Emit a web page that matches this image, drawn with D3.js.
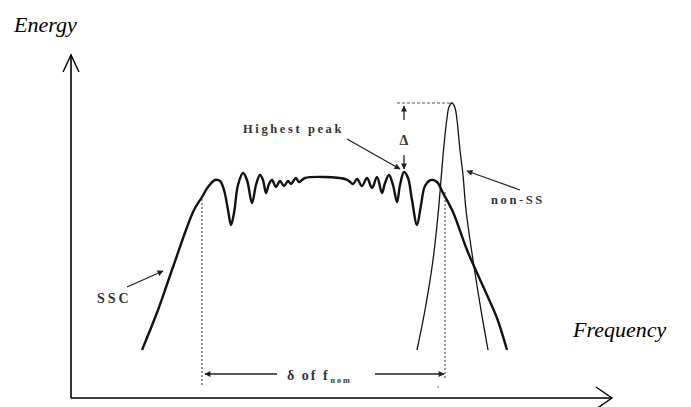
<!DOCTYPE html>
<html>
<head>
<meta charset="utf-8">
<script src="https://cdn.jsdelivr.net/npm/d3@7"></script>
<style>
  body { margin: 0; background: #fff; }
  .lbl { font-family: "Liberation Serif", "DejaVu Serif", serif; font-weight: bold; fill: #333; }
  .axislabel { font-family: "Liberation Serif", serif; font-style: italic; font-size: 22px; fill: #000; }
</style>
</head>
<body>
<svg id="chart" width="691" height="407"></svg>
<script>
// spectrum of the spread spectrum clock (frequency, energy) in arbitrary units
const sscFreq = [71, 87, 102, 115, 123, 131, 137, 144, 149, 153, 157, 160, 163, 167, 172, 176, 181, 185, 189, 192,
  195, 198, 201, 205, 209, 213, 217, 220, 225, 228, 234, 254, 274, 278, 282, 286, 291, 296, 301, 306,
  311, 314, 318, 322, 326, 329, 333, 337, 341, 346, 350, 354, 360, 366, 372, 382, 396, 416, 426, 436];
const sscEnergy = [48, 88, 131, 168, 188, 201, 211, 218, 217, 208, 188, 173, 185, 213, 225, 218, 195, 213, 223, 218,
  205, 214, 218, 211, 217, 212, 217, 214, 220, 216, 220, 221, 219, 217, 214, 219, 212, 220, 210, 221,
  205, 215, 223, 213, 196, 213, 226, 220, 198, 173, 193, 212, 218, 216, 205, 186, 148, 103, 80, 48];

// spectrum of the non spread clock
const nonFreq = [346, 354, 362, 367, 370, 373, 376, 378, 381, 384, 386, 389, 392, 395, 402, 410, 417];
const nonEnergy = [48, 88, 138, 183, 218, 253, 280, 291, 295, 290, 278, 248, 223, 188, 138, 88, 48];

// bandwidth limits and peak levels
const bandEdges = [131, 374];
const bandTops = [200, 206];
const bandBottom = [13, 20];
const nonPeak = 295;
const highestPeak = { f: 333, e: 226 };

const w = 691, h = 407;
const chart = d3.select('#chart');

const xScale = d3.scaleLinear().domain([0, 540]).range([71, 611]);
const yScale = d3.scaleLinear().domain([0, 343]).range([398, 55]);

// arrow marker for the annotations
chart.append('defs').append('marker')
  .attr('id', 'head')
  .attr('viewBox', '0 0 10 10')
  .attr('refX', 9).attr('refY', 5)
  .attr('markerWidth', 7).attr('markerHeight', 6)
  .attr('markerUnits', 'userSpaceOnUse')
  .attr('orient', 'auto')
  .append('path').attr('d', 'M0,0 L10,5 L0,10 z').attr('fill', '#222');

// AXES
chart.append('line')
  .attr('x1', xScale(0)).attr('y1', yScale(0))
  .attr('x2', xScale(541)).attr('y2', yScale(0))
  .attr('stroke', '#000').attr('stroke-width', 1.6);
chart.append('line')
  .attr('x1', xScale(0)).attr('y1', yScale(0))
  .attr('x2', xScale(0)).attr('y2', yScale(343))
  .attr('stroke', '#000').attr('stroke-width', 1.6);

// open arrow heads
chart.append('path')
  .attr('d', `M${xScale(-8)},${yScale(326)} L${xScale(0)},${yScale(343)} L${xScale(8)},${yScale(326)}`)
  .attr('fill', 'none').attr('stroke', '#000').attr('stroke-width', 1.4);
chart.append('path')
  .attr('d', `M${xScale(525)},${yScale(11)} L${xScale(541)},${yScale(0)} L${xScale(525)},${yScale(-11)}`)
  .attr('fill', 'none').attr('stroke', '#000').attr('stroke-width', 1.4);

// axis labels
chart.append('text').attr('class', 'axislabel')
  .attr('x', xScale(-57)).attr('y', yScale(366)).text('Energy');
chart.append('text').attr('class', 'axislabel')
  .attr('x', xScale(502)).attr('y', yScale(61)).text('Frequency');

// DASHED GUIDES
bandEdges.forEach((f, i) => {
  chart.append('line')
    .attr('x1', xScale(f)).attr('x2', xScale(f))
    .attr('y1', yScale(bandBottom[i])).attr('y2', yScale(bandTops[i]))
    .attr('stroke', '#555').attr('stroke-width', 1.2)
    .attr('stroke-dasharray', '2,2');
});
chart.append('line')
  .attr('x1', xScale(326)).attr('x2', xScale(379))
  .attr('y1', yScale(nonPeak)).attr('y2', yScale(nonPeak))
  .attr('stroke', '#555').attr('stroke-width', 1.2)
  .attr('stroke-dasharray', '3,2');

// CURVES
const line = d3.line()
  .x(d => xScale(d[0]))
  .y(d => yScale(d[1]))
  .curve(d3.curveCatmullRom.alpha(0.5));

chart.append('path')
  .datum(nonFreq.map((f, i) => [f, nonEnergy[i]]))
  .attr('d', line)
  .attr('fill', 'none').attr('stroke', '#111').attr('stroke-width', 1.3);

chart.append('path')
  .datum(sscFreq.map((f, i) => [f, sscEnergy[i]]))
  .attr('d', line)
  .attr('fill', 'none').attr('stroke', '#111').attr('stroke-width', 2.4)
  .attr('stroke-linejoin', 'round');

// ANNOTATIONS
function arrow(f1, e1, f2, e2, width) {
  chart.append('line')
    .attr('x1', xScale(f1)).attr('y1', yScale(e1))
    .attr('x2', xScale(f2)).attr('y2', yScale(e2))
    .attr('stroke', '#222').attr('stroke-width', width || 1.3)
    .attr('marker-end', 'url(#head)');
}

// highest peak
chart.append('text').attr('class', 'lbl')
  .attr('x', xScale(172)).attr('y', yScale(265))
  .attr('font-size', 12.5).attr('letter-spacing', 2.6)
  .text('Highest peak');
arrow(276, 259, highestPeak.f - 4, highestPeak.e + 3);

// delta between peaks
chart.append('text').attr('class', 'lbl')
  .attr('x', xScale(highestPeak.f)).attr('y', yScale(253))
  .attr('text-anchor', 'middle').attr('font-size', 14)
  .text('Δ');
arrow(highestPeak.f, 278, highestPeak.f, nonPeak - 3);
arrow(highestPeak.f, 243, highestPeak.f, highestPeak.e + 3);

// SSC
chart.append('text').attr('class', 'lbl')
  .attr('x', xScale(26)).attr('y', yScale(95))
  .attr('font-size', 14).attr('letter-spacing', 3)
  .text('SSC');
arrow(56, 111, 92, 127);

// non-SS
chart.append('text').attr('class', 'lbl')
  .attr('x', xScale(420)).attr('y', yScale(194))
  .attr('font-size', 12.5).attr('letter-spacing', 2.6)
  .text('non-SS');
arrow(449, 208, 396, 227);

// bandwidth
const bw = chart.append('text').attr('class', 'lbl')
  .attr('x', xScale(216)).attr('y', yScale(18))
  .attr('font-size', 14).attr('letter-spacing', 2);
bw.append('tspan').text('δ of f');
bw.append('tspan').attr('font-size', 8).attr('dy', 3).attr('dx', 1).text('nom');
arrow(206, 24, bandEdges[0] + 3, 24);
arrow(304, 24, bandEdges[1] - 1, 24);
chart.append('line')
  .attr('x1', xScale(366)).attr('x2', xScale(368))
  .attr('y1', yScale(11)).attr('y2', yScale(11))
  .attr('stroke', '#777').attr('stroke-width', 1);
</script>
</body>
</html>
